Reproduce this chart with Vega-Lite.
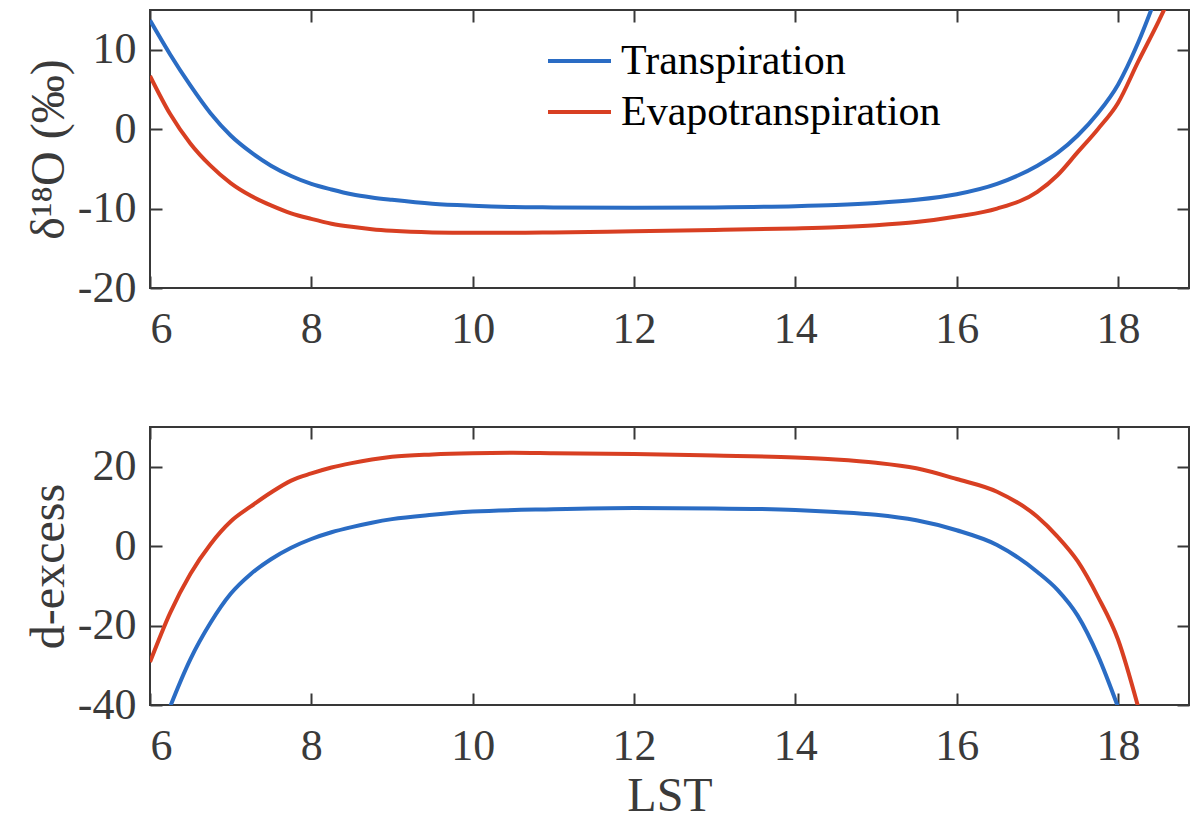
{
  "$schema": "https://vega.github.io/schema/vega-lite/v6.json",
  "padding": {"left": 23, "top": -23, "right": 0, "bottom": 0},
  "background": "white",
  "bounds": "flush",
  "spacing": 139,
  "config": {
    "font": "Liberation Serif",
    "view": {"stroke": "#383838", "strokeWidth": 2},
    "axis": {
      "domain": false, "grid": false, "ticks": true, "tickSize": -12, "tickColor": "#383838", "tickWidth": 2,
      "labelFont": "Liberation Serif", "labelFontSize": 44, "labelColor": "#3a3a3a",
      "labelExpr": "'' + datum.value",
      "titleFont": "Liberation Serif", "titleFontSize": 48, "titleFontWeight": "normal", "titleColor": "#3a3a3a"
    },
    "axisX": {"labelBaseline": "alphabetic", "labelPadding": 66},
    "axisY": {"labelPadding": 26, "titleBaseline": "alphabetic", "titleX": -87}
  },
  "datasets": {
    "d18O": [
      {"LST": 6, "value": 13.7, "series": "Transpiration"},
      {"LST": 6.25, "value": 9.4, "series": "Transpiration"},
      {"LST": 6.5, "value": 5.5, "series": "Transpiration"},
      {"LST": 6.75, "value": 2.0, "series": "Transpiration"},
      {"LST": 7, "value": -0.8, "series": "Transpiration"},
      {"LST": 7.25, "value": -2.9, "series": "Transpiration"},
      {"LST": 7.5, "value": -4.6, "series": "Transpiration"},
      {"LST": 7.75, "value": -5.9, "series": "Transpiration"},
      {"LST": 8, "value": -6.9, "series": "Transpiration"},
      {"LST": 8.25, "value": -7.6, "series": "Transpiration"},
      {"LST": 8.5, "value": -8.2, "series": "Transpiration"},
      {"LST": 8.75, "value": -8.6, "series": "Transpiration"},
      {"LST": 9, "value": -8.9, "series": "Transpiration"},
      {"LST": 9.5, "value": -9.4, "series": "Transpiration"},
      {"LST": 10, "value": -9.65, "series": "Transpiration"},
      {"LST": 10.5, "value": -9.8, "series": "Transpiration"},
      {"LST": 11, "value": -9.85, "series": "Transpiration"},
      {"LST": 12, "value": -9.9, "series": "Transpiration"},
      {"LST": 13, "value": -9.85, "series": "Transpiration"},
      {"LST": 14, "value": -9.7, "series": "Transpiration"},
      {"LST": 14.5, "value": -9.55, "series": "Transpiration"},
      {"LST": 15, "value": -9.3, "series": "Transpiration"},
      {"LST": 15.5, "value": -8.9, "series": "Transpiration"},
      {"LST": 16, "value": -8.2, "series": "Transpiration"},
      {"LST": 16.5, "value": -6.9, "series": "Transpiration"},
      {"LST": 17, "value": -4.6, "series": "Transpiration"},
      {"LST": 17.25, "value": -3.0, "series": "Transpiration"},
      {"LST": 17.5, "value": -0.8, "series": "Transpiration"},
      {"LST": 17.75, "value": 2.0, "series": "Transpiration"},
      {"LST": 18, "value": 5.6, "series": "Transpiration"},
      {"LST": 18.25, "value": 10.9, "series": "Transpiration"},
      {"LST": 18.5, "value": 17.4, "series": "Transpiration"},
      {"LST": 6, "value": 6.7, "series": "Evapotranspiration"},
      {"LST": 6.25, "value": 1.9, "series": "Evapotranspiration"},
      {"LST": 6.5, "value": -1.8, "series": "Evapotranspiration"},
      {"LST": 6.75, "value": -4.6, "series": "Evapotranspiration"},
      {"LST": 7, "value": -6.8, "series": "Evapotranspiration"},
      {"LST": 7.25, "value": -8.4, "series": "Evapotranspiration"},
      {"LST": 7.5, "value": -9.6, "series": "Evapotranspiration"},
      {"LST": 7.75, "value": -10.6, "series": "Evapotranspiration"},
      {"LST": 8, "value": -11.3, "series": "Evapotranspiration"},
      {"LST": 8.25, "value": -11.9, "series": "Evapotranspiration"},
      {"LST": 8.5, "value": -12.3, "series": "Evapotranspiration"},
      {"LST": 8.75, "value": -12.6, "series": "Evapotranspiration"},
      {"LST": 9, "value": -12.8, "series": "Evapotranspiration"},
      {"LST": 9.5, "value": -13.0, "series": "Evapotranspiration"},
      {"LST": 10, "value": -13.05, "series": "Evapotranspiration"},
      {"LST": 10.5, "value": -13.05, "series": "Evapotranspiration"},
      {"LST": 11, "value": -13.0, "series": "Evapotranspiration"},
      {"LST": 12, "value": -12.85, "series": "Evapotranspiration"},
      {"LST": 13, "value": -12.7, "series": "Evapotranspiration"},
      {"LST": 14, "value": -12.5, "series": "Evapotranspiration"},
      {"LST": 14.5, "value": -12.35, "series": "Evapotranspiration"},
      {"LST": 15, "value": -12.1, "series": "Evapotranspiration"},
      {"LST": 15.5, "value": -11.7, "series": "Evapotranspiration"},
      {"LST": 16, "value": -11.0, "series": "Evapotranspiration"},
      {"LST": 16.5, "value": -10.0, "series": "Evapotranspiration"},
      {"LST": 17, "value": -7.9, "series": "Evapotranspiration"},
      {"LST": 17.25, "value": -5.8, "series": "Evapotranspiration"},
      {"LST": 17.5, "value": -2.9, "series": "Evapotranspiration"},
      {"LST": 17.75, "value": 0.0, "series": "Evapotranspiration"},
      {"LST": 18, "value": 3.3, "series": "Evapotranspiration"},
      {"LST": 18.25, "value": 8.5, "series": "Evapotranspiration"},
      {"LST": 18.5, "value": 13.5, "series": "Evapotranspiration"},
      {"LST": 18.75, "value": 19.0, "series": "Evapotranspiration"}
    ],
    "dex": [
      {"LST": 6, "value": -54, "series": "Transpiration"},
      {"LST": 6.25, "value": -40.4, "series": "Transpiration"},
      {"LST": 6.5, "value": -28.5, "series": "Transpiration"},
      {"LST": 6.75, "value": -19.3, "series": "Transpiration"},
      {"LST": 7, "value": -12.0, "series": "Transpiration"},
      {"LST": 7.25, "value": -7.0, "series": "Transpiration"},
      {"LST": 7.5, "value": -3.3, "series": "Transpiration"},
      {"LST": 7.75, "value": -0.4, "series": "Transpiration"},
      {"LST": 8, "value": 1.8, "series": "Transpiration"},
      {"LST": 8.25, "value": 3.5, "series": "Transpiration"},
      {"LST": 8.5, "value": 4.8, "series": "Transpiration"},
      {"LST": 8.75, "value": 5.9, "series": "Transpiration"},
      {"LST": 9, "value": 6.8, "series": "Transpiration"},
      {"LST": 9.5, "value": 7.9, "series": "Transpiration"},
      {"LST": 10, "value": 8.7, "series": "Transpiration"},
      {"LST": 11, "value": 9.3, "series": "Transpiration"},
      {"LST": 12, "value": 9.6, "series": "Transpiration"},
      {"LST": 13, "value": 9.5, "series": "Transpiration"},
      {"LST": 14, "value": 9.1, "series": "Transpiration"},
      {"LST": 14.5, "value": 8.6, "series": "Transpiration"},
      {"LST": 15, "value": 7.9, "series": "Transpiration"},
      {"LST": 15.5, "value": 6.5, "series": "Transpiration"},
      {"LST": 16, "value": 4.0, "series": "Transpiration"},
      {"LST": 16.5, "value": 0.3, "series": "Transpiration"},
      {"LST": 17, "value": -6.5, "series": "Transpiration"},
      {"LST": 17.25, "value": -11.0, "series": "Transpiration"},
      {"LST": 17.5, "value": -17.5, "series": "Transpiration"},
      {"LST": 17.75, "value": -27.5, "series": "Transpiration"},
      {"LST": 18, "value": -40.5, "series": "Transpiration"},
      {"LST": 6, "value": -29.2, "series": "Evapotranspiration"},
      {"LST": 6.25, "value": -16.8, "series": "Evapotranspiration"},
      {"LST": 6.5, "value": -7.0, "series": "Evapotranspiration"},
      {"LST": 6.75, "value": 0.5, "series": "Evapotranspiration"},
      {"LST": 7, "value": 6.2, "series": "Evapotranspiration"},
      {"LST": 7.25, "value": 10.0, "series": "Evapotranspiration"},
      {"LST": 7.5, "value": 13.5, "series": "Evapotranspiration"},
      {"LST": 7.75, "value": 16.5, "series": "Evapotranspiration"},
      {"LST": 8, "value": 18.3, "series": "Evapotranspiration"},
      {"LST": 8.25, "value": 19.8, "series": "Evapotranspiration"},
      {"LST": 8.5, "value": 20.9, "series": "Evapotranspiration"},
      {"LST": 8.75, "value": 21.8, "series": "Evapotranspiration"},
      {"LST": 9, "value": 22.5, "series": "Evapotranspiration"},
      {"LST": 9.5, "value": 23.1, "series": "Evapotranspiration"},
      {"LST": 10, "value": 23.4, "series": "Evapotranspiration"},
      {"LST": 10.5, "value": 23.5, "series": "Evapotranspiration"},
      {"LST": 11, "value": 23.4, "series": "Evapotranspiration"},
      {"LST": 12, "value": 23.2, "series": "Evapotranspiration"},
      {"LST": 13, "value": 22.8, "series": "Evapotranspiration"},
      {"LST": 14, "value": 22.3, "series": "Evapotranspiration"},
      {"LST": 14.5, "value": 21.8, "series": "Evapotranspiration"},
      {"LST": 15, "value": 21.0, "series": "Evapotranspiration"},
      {"LST": 15.5, "value": 19.6, "series": "Evapotranspiration"},
      {"LST": 16, "value": 16.9, "series": "Evapotranspiration"},
      {"LST": 16.5, "value": 13.7, "series": "Evapotranspiration"},
      {"LST": 17, "value": 7.4, "series": "Evapotranspiration"},
      {"LST": 17.25, "value": 2.4, "series": "Evapotranspiration"},
      {"LST": 17.5, "value": -3.8, "series": "Evapotranspiration"},
      {"LST": 17.75, "value": -12.7, "series": "Evapotranspiration"},
      {"LST": 18, "value": -23.5, "series": "Evapotranspiration"},
      {"LST": 18.25, "value": -40.5, "series": "Evapotranspiration"}
    ]
  },
  "vconcat": [
    {
      "width": 1039,
      "height": 278,
      "data": {"name": "d18O"},
      "layer": [
        {
          "mark": {"type": "line", "clip": true, "strokeWidth": 4, "interpolate": "monotone"},
          "encoding": {
            "x": {"field": "LST", "type": "quantitative", "scale": {"domain": [6, 18.88], "nice": false, "zero": false},
                  "axis": {"values": [6, 8, 10, 12, 14, 16, 18], "title": null}},
            "y": {"field": "value", "type": "quantitative", "scale": {"domain": [-20, 15], "nice": false, "zero": false},
                  "axis": {"values": [-20, -10, 0, 10], "title": "δ¹⁸O (‰)"}},
            "color": {"field": "series", "type": "nominal",
                      "scale": {"domain": ["Transpiration", "Evapotranspiration"], "range": ["#2a6cc4", "#d83f22"]},
                      "legend": {"orient": "none", "legendX": 396, "legendY": 30, "title": null,
                                 "symbolType": "stroke", "symbolSize": 3969, "symbolStrokeWidth": 4,
                                 "labelFont": "Liberation Serif", "labelFontSize": 42, "labelColor": "black",
                                 "labelLimit": 0, "labelOffset": 8, "rowPadding": 9, "clipHeight": 42}}
          }
        },
        {
          "mark": {"type": "line", "opacity": 0},
          "encoding": {
            "x": {"field": "LST", "type": "quantitative", "axis": {"orient": "top", "labels": false, "title": null, "values": [6, 8, 10, 12, 14, 16, 18]}},
            "y": {"field": "value", "type": "quantitative", "axis": {"orient": "right", "labels": false, "title": null, "values": [-20, -10, 0, 10]}}
          }
        }
      ],
      "resolve": {"axis": {"x": "independent", "y": "independent"}}
    },
    {
      "width": 1039,
      "height": 278,
      "data": {"name": "dex"},
      "layer": [
        {
          "mark": {"type": "line", "clip": true, "strokeWidth": 4, "interpolate": "monotone"},
          "encoding": {
            "x": {"field": "LST", "type": "quantitative", "scale": {"domain": [6, 18.88], "nice": false, "zero": false},
                  "axis": {"values": [6, 8, 10, 12, 14, 16, 18], "title": "LST", "titleBaseline": "alphabetic", "titleY": 105}},
            "y": {"field": "value", "type": "quantitative", "scale": {"domain": [-40, 30], "nice": false, "zero": false},
                  "axis": {"values": [-40, -20, 0, 20], "title": "d-excess"}},
            "color": {"field": "series", "type": "nominal",
                      "scale": {"domain": ["Transpiration", "Evapotranspiration"], "range": ["#2a6cc4", "#d83f22"]},
                      "legend": null}
          }
        },
        {
          "mark": {"type": "line", "opacity": 0},
          "encoding": {
            "x": {"field": "LST", "type": "quantitative", "axis": {"orient": "top", "labels": false, "title": null, "values": [6, 8, 10, 12, 14, 16, 18]}},
            "y": {"field": "value", "type": "quantitative", "axis": {"orient": "right", "labels": false, "title": null, "values": [-40, -20, 0, 20]}}
          }
        }
      ],
      "resolve": {"axis": {"x": "independent", "y": "independent"}}
    }
  ]
}
